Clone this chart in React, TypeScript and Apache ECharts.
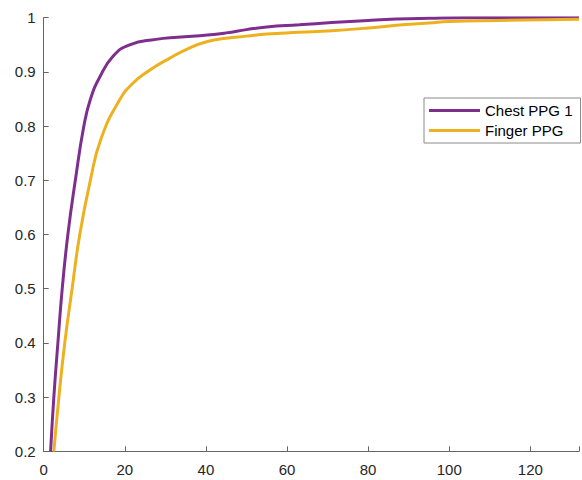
import React, { useEffect, useRef } from "react";
import * as echarts from "echarts";

const chestX = [1.7, 2.5, 3.5, 4.57, 5.96, 7.8, 9.9, 11.5, 13.8, 17.1, 21.2, 27.7, 33, 40.4, 45, 50, 55, 63, 71, 80, 87, 95, 104, 132];
const chestY = [0.2, 0.3, 0.4, 0.5, 0.6, 0.7, 0.8, 0.849, 0.89, 0.929, 0.95, 0.96, 0.964, 0.968, 0.972, 0.978, 0.983, 0.987, 0.991, 0.995, 0.9975, 0.999, 1.0, 1.0];

const fingerX = [2.5, 3.75, 5.2, 7.0, 8.9, 11.5, 14.2, 18.7, 22.0, 26.1, 31.0, 35.9, 40.4, 45, 50, 55, 63, 71, 80, 87, 95, 100, 112, 132];
const fingerY = [0.2, 0.3, 0.4, 0.5, 0.6, 0.7, 0.778, 0.848, 0.879, 0.903, 0.925, 0.944, 0.956, 0.962, 0.966, 0.97, 0.973, 0.976, 0.981, 0.986, 0.99, 0.993, 0.995, 0.997];

const seriesNames = ["Chest PPG 1", "Finger PPG"];
const xTicks = [0, 20, 40, 60, 80, 100, 120];

const FONT = "'Liberation Sans', Arial, Helvetica, sans-serif";

export default function App() {
  const ref = useRef<HTMLDivElement>(null);
  useEffect(() => {
    if (!ref.current) return;
    const chart = echarts.init(ref.current, undefined, { renderer: "svg" });
    const pairs = (xs: number[], ys: number[]) => xs.map((x, i) => [x, ys[i]]);
    chart.setOption({
      animation: false,
      backgroundColor: "#ffffff",
      grid: { left: 43.7, right: 0, top: 17.7, bottom: 28.7, containLabel: false },
      xAxis: {
        type: "value",
        min: 0,
        max: 132,
        interval: 20,
        axisLine: { show: true, lineStyle: { color: "#666666", width: 1 } },
        axisTick: { show: true, inside: true, length: 5, lineStyle: { color: "#666666" } },
        splitLine: { show: false },
        axisLabel: {
          color: "#262626",
          fontSize: 15,
          fontFamily: FONT,
          margin: 11,
          formatter: (v: number) => (xTicks.includes(v) ? String(v) : ""),
        },
      },
      yAxis: {
        type: "value",
        min: 0.2,
        max: 1,
        interval: 0.1,
        axisLine: { show: true, lineStyle: { color: "#666666", width: 1 } },
        axisTick: { show: true, inside: true, length: 5, lineStyle: { color: "#666666" } },
        splitLine: { show: false },
        axisLabel: {
          color: "#262626",
          fontSize: 15,
          fontFamily: FONT,
          margin: 8,
          formatter: (v: number) => String(Math.round(v * 10) / 10),
        },
      },
      legend: {
        left: 424,
        top: 98,
        orient: "vertical",
        icon: "rect",
        itemWidth: 51,
        itemHeight: 3,
        itemGap: 5,
        padding: [5, 8, 5, 5],
        borderColor: "#8a8a8a",
        borderWidth: 1,
        backgroundColor: "#ffffff",
        textStyle: { color: "#000000", fontSize: 15, fontFamily: FONT, lineHeight: 15 },
        data: seriesNames,
      },
      series: [
        {
          name: seriesNames[0],
          type: "line",
          data: pairs(chestX, chestY),
          showSymbol: false,
          symbol: "none",
          smooth: 0.5,
          lineStyle: { color: "#7E2F8E", width: 3 },
          itemStyle: { color: "#7E2F8E" },
        },
        {
          name: seriesNames[1],
          type: "line",
          data: pairs(fingerX, fingerY),
          showSymbol: false,
          symbol: "none",
          smooth: 0.5,
          lineStyle: { color: "#EDB120", width: 3 },
          itemStyle: { color: "#EDB120" },
        },
      ],
    });
    return () => chart.dispose();
  }, []);
  return (
    <div
      ref={ref}
      style={{ position: "fixed", left: 0, top: 0, width: 582, height: 480, background: "#fff" }}
    />
  );
}
